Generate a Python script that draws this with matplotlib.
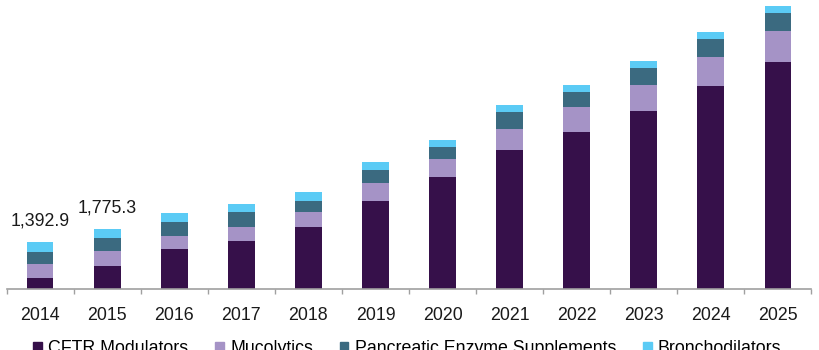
import matplotlib.pyplot as plt
import numpy as np
from matplotlib.patches import Patch

plt.rcParams['font.family'] = ['Liberation Sans', 'DejaVu Sans']

years = ['2014', '2015', '2016', '2017', '2018', '2019', '2020', '2021', '2022', '2023', '2024', '2025']
cftr = [330, 685, 1171, 1416, 1838, 2605, 3292, 4109, 4640, 5260, 5989, 6685]
mucolytics = [415, 442, 401, 404, 443, 522, 531, 611, 729, 767, 856, 923]
pancreatic = [355, 365, 413, 451, 325, 372, 366, 490, 451, 481, 522, 531]
broncho = [292.9, 283.3, 248, 245, 245, 257, 215, 218, 207, 215, 207, 215]
labels = {0: '1,392.9', 1: '1,775.3'}

series = [('CFTR Modulators', cftr, '#36104a'),
          ('Mucolytics', mucolytics, '#a593c6'),
          ('Pancreatic Enzyme Supplements', pancreatic, '#3b6a80'),
          ('Bronchodilators', broncho, '#5bcbf5')]

fs = 12.8
fig = plt.figure(figsize=(8.2, 3.5), dpi=100)
ax = fig.add_axes([6.5 / 820, 61 / 350, 805 / 820, 289 / 350])

x = np.arange(len(years))
bottom = np.zeros(len(years))
for name, vals, col in series:
    ax.bar(x, vals, 0.4, bottom=bottom, color=col, edgecolor='none')
    bottom += np.array(vals)

for i, txt in labels.items():
    ax.annotate(txt, (x[i], bottom[i]), xytext=(0, 21), textcoords='offset pixels',
                ha='center', va='center', fontsize=fs, color='#1a1a1a')

ax.set_xlim(-0.5, len(years) - 0.5)
ax.set_ylim(0, 8525)
ax.set_xticks(x)
ax.set_xticklabels(years, fontsize=fs, color='#1a1a1a')
ax.set_xticks(np.arange(-0.5, len(years)), minor=True)
ax.tick_params(axis='x', which='major', length=0, pad=13)
ax.tick_params(axis='x', which='minor', length=3.5, color='#a0a0a0', width=1)
ax.set_yticks([])
for s in ['top', 'right', 'left']:
    ax.spines[s].set_visible(False)
ax.spines['bottom'].set_color('#a0a0a0')
ax.spines['bottom'].set_linewidth(1.2)

handles = [Patch(color=c, label=n) for n, v, c in series]
fig.legend(handles=handles, loc='upper left', bbox_to_anchor=(33 / 820, 1 - 340 / 350),
           ncol=4, frameon=False, fontsize=fs, borderpad=0, borderaxespad=0,
           handlelength=0.5, handleheight=0.5, handletextpad=0.35, columnspacing=1.5)

fig.savefig('out.png', dpi=100)
